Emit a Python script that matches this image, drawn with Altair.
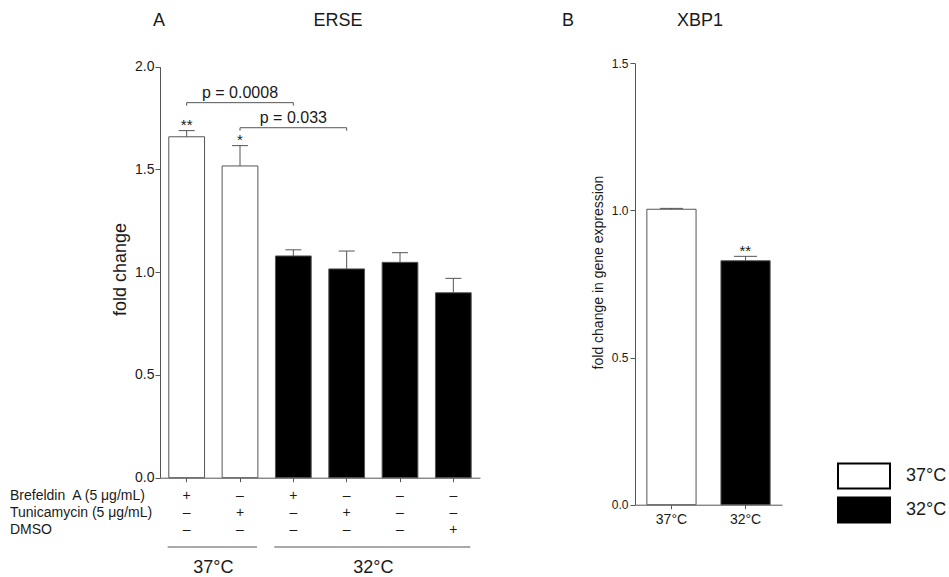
import altair as alt
import pandas as pd

FONT = "Liberation Sans"
INK = "#1a1a1a"
LINE = "#555555"

# ---- Panel A: ERSE reporter activity ----
erse_conditions = ["BFA 37", "TM 37", "BFA 32", "TM 32", "untreated 32", "DMSO 32"]
erse_temp = ["37°C", "37°C", "32°C", "32°C", "32°C", "32°C"]
erse_mean = [1.659, 1.517, 1.079, 1.016, 1.048, 0.900]
erse_sem = [0.030, 0.099, 0.030, 0.087, 0.047, 0.070]
erse_sig = ["**", "*", "", "", "", ""]

treatment_rows = ["Brefeldin\u00a0 A (5 \u03bcg/mL)", "Tunicamycin (5 \u03bcg/mL)", "DMSO"]
brefeldin = ["+", "–", "+", "–", "–", "–"]
tunicamycin = ["–", "+", "–", "+", "–", "–"]
dmso = ["–", "–", "–", "–", "–", "+"]

# pairwise comparisons (bracket from -> to, label over the middle bar)
comp_from = ["BFA 37", "TM 37"]
comp_mid = ["TM 37", "BFA 32"]
comp_to = ["BFA 32", "TM 32"]
comp_height = [1.825, 1.703]
comp_label = ["p = 0.0008", "p = 0.033"]

# ---- Panel B: XBP1 expression ----
xbp1_temp = ["37°C", "32°C"]
xbp1_mean = [1.004, 0.829]
xbp1_sem = [0.003, 0.015]
xbp1_sig = ["", "**"]

temp_order = ["37°C", "32°C"]

erse = pd.DataFrame({"cond": erse_conditions, "temp": erse_temp, "mean": erse_mean,
                     "sem": erse_sem, "sig": erse_sig})
erse["top"] = erse["mean"] + erse["sem"]
comps = pd.DataFrame({"from": comp_from, "mid": comp_mid, "to": comp_to,
                      "h": comp_height, "label": comp_label})
xbp1 = pd.DataFrame({"temp": xbp1_temp, "mean": xbp1_mean, "sem": xbp1_sem, "sig": xbp1_sig})
xbp1["top"] = xbp1["mean"] + xbp1["sem"]

groups = pd.DataFrame({
    "temp": temp_order,
    "first": [erse_temp.index(t) for t in temp_order],
    "last": [len(erse_temp) - 1 - erse_temp[::-1].index(t) for t in temp_order],
})

# ---- scales (each panel has its own pixel range inside one canvas) ----
xA = alt.Scale(domain=erse_conditions, range=[160, 480], paddingInner=0.33, paddingOuter=0.165)
xA_index = alt.Scale(domain=[-0.5, len(erse_conditions) - 0.5], range=[160, 480], nice=False, zero=False)
yA = alt.Scale(domain=[0, 2], range=[477.7, 66.7], nice=False)
xB = alt.Scale(domain=xbp1_temp, range=[635, 782], paddingInner=0.336, paddingOuter=0.16)
yB = alt.Scale(domain=[0, 1.5], range=[504.7, 63.3], nice=False)
fill_scale = alt.Scale(domain=temp_order, range=["white", "black"])

# wide rectangular swatches: the path reaches past the unit box so rows stay compact
legend = alt.Legend(
    title=None, orient="none", legendX=850, legendY=462,
    symbolType="M-2,-0.96H2V0.96H-2Z", symbolSize=676,
    symbolStrokeColor="black", symbolStrokeWidth=2,
    labelFont=FONT, labelFontSize=18, labelColor=INK, labelOffset=28,
    rowPadding=0, padding=0,
)

# ---- panel A ----
bars_a = alt.Chart(erse).mark_bar(stroke=LINE, strokeWidth=1).encode(
    x=alt.X("cond:N", scale=xA, axis=alt.Axis(orient="bottom", offset=-99.3, labels=False,
                                             title=None, tickSize=4)),
    y=alt.Y("mean:Q", scale=yA, axis=alt.Axis(orient="left", offset=-160, values=[0, 0.5, 1, 1.5, 2],
                                              format=".1f", labelFontSize=14, tickSize=5,
                                              labelPadding=1, title="fold change", titleFontSize=18,
                                              titlePadding=5, titleY=269)),
    fill=alt.Fill("temp:N", scale=fill_scale, legend=legend),
)
err_a = alt.Chart(erse).mark_rule(color=LINE, strokeWidth=1).encode(
    x=alt.X("cond:N", scale=xA, axis=None),
    y=alt.Y("mean:Q", scale=yA, axis=None),
    y2="top:Q",
)
cap_a = alt.Chart(erse).mark_tick(color=LINE, size=16, thickness=1, opacity=1).encode(
    x=alt.X("cond:N", scale=xA, axis=None),
    y=alt.Y("top:Q", scale=yA, axis=None),
)
stars_a = alt.Chart(erse).mark_text(fontSize=15, font=FONT, color=INK, baseline="alphabetic", dy=-1).encode(
    x=alt.X("cond:N", scale=xA, axis=None),
    y=alt.Y("top:Q", scale=yA, axis=None),
    text="sig:N",
)
bracket = alt.Chart(comps).mark_rule(color=LINE, strokeWidth=1).encode(
    x=alt.X("from:N", scale=xA, axis=None),
    x2="to:N",
    y=alt.Y("h:Q", scale=yA, axis=None),
)
bracket_l = alt.Chart(comps).mark_rule(color=LINE, strokeWidth=1, y2Offset=3).encode(
    x=alt.X("from:N", scale=xA, axis=None),
    y=alt.Y("h:Q", scale=yA, axis=None),
    y2="h:Q",
)
bracket_r = alt.Chart(comps).mark_rule(color=LINE, strokeWidth=1, y2Offset=3).encode(
    x=alt.X("to:N", scale=xA, axis=None),
    y=alt.Y("h:Q", scale=yA, axis=None),
    y2="h:Q",
)
p_text = alt.Chart(comps).mark_text(fontSize=16, font=FONT, color=INK, baseline="alphabetic", dy=-5).encode(
    x=alt.X("mid:N", scale=xA, axis=None),
    y=alt.Y("h:Q", scale=yA, axis=None),
    text="label:N",
)

# treatment table under panel A
table_layers = []
row_baselines = [500, 517, 534]
for label, symbols, yb in zip(treatment_rows, [brefeldin, tunicamycin, dmso], row_baselines):
    row = pd.DataFrame({"cond": erse_conditions, "sym": symbols})
    table_layers.append(
        alt.Chart(row).mark_text(fontSize=14, font=FONT, color=INK, baseline="alphabetic").encode(
            x=alt.X("cond:N", scale=xA, axis=None),
            y=alt.value(yb),
            text="sym:N",
        )
    )
    table_layers.append(
        alt.Chart(pd.DataFrame({"t": [label]})).mark_text(
            fontSize=14, font=FONT, color=INK, align="left", baseline="alphabetic"
        ).encode(x=alt.value(10), y=alt.value(yb), text="t:N")
    )

group_lines = alt.Chart(groups).mark_rule(color=LINE, strokeWidth=1, xOffset=-19, x2Offset=17).encode(
    x=alt.X("first:Q", scale=xA_index, axis=None),
    x2="last:Q",
    y=alt.value(547),
)
group_text = alt.Chart(groups).transform_calculate(
    mid="(datum.first + datum.last) / 2"
).mark_text(fontSize=18, font=FONT, color=INK, baseline="alphabetic").encode(
    x=alt.X("mid:Q", scale=xA_index, axis=None),
    y=alt.value(573),
    text="temp:N",
)

# ---- panel B ----
bars_b = alt.Chart(xbp1).mark_bar(stroke=LINE, strokeWidth=1).encode(
    x=alt.X("temp:N", scale=xB, axis=alt.Axis(orient="bottom", offset=-72.3, title=None, tickSize=4,
                                             labelPadding=4, labelFontSize=14, labelAngle=0)),
    y=alt.Y("mean:Q", scale=yB, axis=alt.Axis(orient="left", offset=-635, values=[0, 0.5, 1, 1.5],
                                              format=".1f", labelFontSize=12, tickSize=5,
                                              labelPadding=2, title="fold change in gene expression",
                                              titleFontSize=14, titlePadding=6, titleY=272)),
    fill=alt.Fill("temp:N", scale=fill_scale, legend=legend),
)
err_b = alt.Chart(xbp1).mark_rule(color=LINE, strokeWidth=1).encode(
    x=alt.X("temp:N", scale=xB, axis=None),
    y=alt.Y("mean:Q", scale=yB, axis=None),
    y2="top:Q",
)
cap_b = alt.Chart(xbp1).mark_tick(color=LINE, size=23, thickness=1, opacity=1).encode(
    x=alt.X("temp:N", scale=xB, axis=None),
    y=alt.Y("top:Q", scale=yB, axis=None),
)
stars_b = alt.Chart(xbp1).mark_text(fontSize=15, font=FONT, color=INK, baseline="alphabetic", dy=0).encode(
    x=alt.X("temp:N", scale=xB, axis=None),
    y=alt.Y("top:Q", scale=yB, axis=None),
    text="sig:N",
)


def heading(text, x, y):
    return alt.Chart(pd.DataFrame({"t": [text]})).mark_text(
        fontSize=18, font=FONT, color=INK, baseline="alphabetic"
    ).encode(x=alt.value(x), y=alt.value(y), text="t:N")


headings = [heading("A", 159, 26), heading("ERSE", 338, 26), heading("B", 568, 26), heading("XBP1", 700, 26)]

chart = alt.layer(
    bars_a, err_a, cap_a, stars_a, bracket, bracket_l, bracket_r, p_text,
    *table_layers, group_lines, group_text,
    bars_b, err_b, cap_b, stars_b,
    *headings,
).resolve_scale(
    x="independent", y="independent"
).resolve_axis(
    x="independent", y="independent"
).properties(
    width=949, height=577, autosize=alt.AutoSizeParams(type="none"), padding=0
).configure_view(
    stroke=None
).configure_axis(
    labelFont=FONT, titleFont=FONT, titleFontWeight="normal", labelColor=INK, titleColor=INK,
    domainColor=LINE, tickColor=LINE, grid=False,
)

chart.save("out.html", embed_options={"renderer": "svg", "actions": False})
